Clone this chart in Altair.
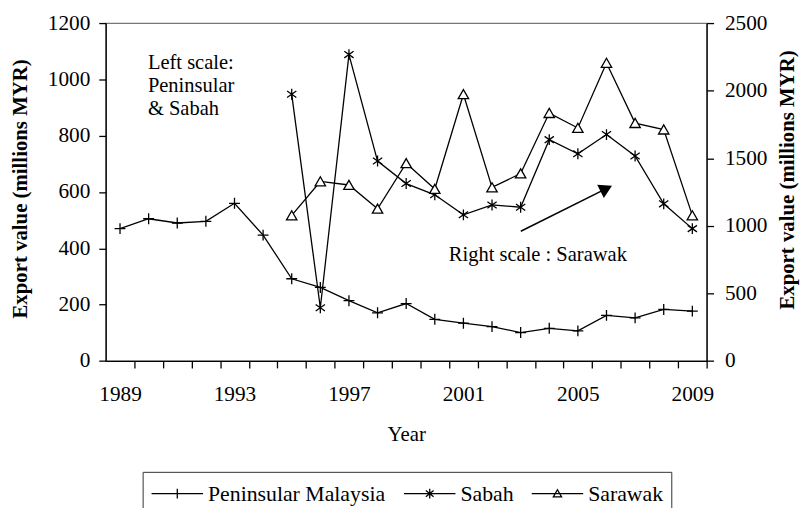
import altair as alt
import pandas as pd

years = list(range(1989, 2010))
peninsular = [470, 505, 490, 496, 560, 447, 292, 261, 214, 171, 204, 148, 134, 122, 101, 116, 107, 162, 153, 183, 177]
sabah_years = list(range(1995, 2010))
sabah = [947, 189, 1088, 710, 630, 590, 519, 554, 546, 786, 736, 804, 728, 558, 470]
sarawak = [1077, 1328, 1302, 1126, 1463, 1272, 1973, 1284, 1387, 1834, 1724, 2205, 1760, 1712, 1077]
series_names = ["Peninsular Malaysia", "Sabah", "Sarawak"]

pen_df = pd.DataFrame({"year": years, "value": peninsular, "series": "Peninsular Malaysia"})
sab_df = pd.DataFrame({"year": sabah_years, "value": sabah, "series": "Sabah"})
sar_df = pd.DataFrame({"year": sabah_years, "value": sarawak, "series": "Sarawak"})
all_df = pd.concat([pen_df, sab_df, sar_df], ignore_index=True)

FONT = "Liberation Serif"
W, H = 607, 341.3
half_band = W / len(years) / 2

PLUS = "M-1,0H1M0,-1V1"
STAR = "M0,-1V1M-0.85,-0.6L0.85,0.6M-0.85,0.6L0.85,-0.6"
TRI = "M0,-0.9L1,0.85L-1,0.85Z"
LEG_PLUS = "M-1,0H3M1,-0.38V0.38"
LEG_STAR = "M-1,0H3M1,-0.38V0.38M0.7,-0.25L1.3,0.25M0.7,0.25L1.3,-0.25"
LEG_TRI = "M-1,0H3M1,-0.3L1.32,0.25L0.68,0.25Z"

xscale = alt.Scale(domain=[1988.5, 2009.5], nice=False, zero=False)
xaxis = alt.Axis(
    values=years, tickOffset=half_band, labelOffset=-half_band,
    labelExpr="(datum.value - 1989) % 4 == 0 ? datum.label : ''",
    format="d", title="Year", grid=False, ticks=True, tickSize=7, tickColor="black",
    tickWidth=1.3, domainColor="black", domainWidth=1.3,
    labelFont=FONT, labelFontSize=21.5, labelColor="black", labelPadding=16,
    titleFont=FONT, titleFontSize=21, titleFontWeight="normal", titleColor="black",
    titleY=63, titleBaseline="top",
)
X = alt.X("year:Q", scale=xscale, axis=xaxis)

ltitle = "Export value (millions MYR)"
left_axis = alt.Axis(
    values=[0, 200, 400, 600, 800, 1000, 1200], format="d", grid=False,
    ticks=True, tickSize=7,
    tickColor="black", tickWidth=1.3, domainColor="black", domainWidth=1.3,
    labelFont=FONT, labelFontSize=21.5, labelColor="black", labelPadding=9,
    title=ltitle, titleFont=FONT, titleFontSize=21, titleFontWeight="bold",
    titleColor="black", titleAngle=270, titleBaseline="middle",
    titleX=-85.7, titleY=167,
)
right_axis = alt.Axis(
    orient="right", values=[0, 500, 1000, 1500, 2000, 2500], format="d", grid=False,
    ticks=True, tickSize=7,
    tickColor="black", tickWidth=1.3, domainColor="black", domainWidth=1.3,
    labelFont=FONT, labelFontSize=21.5, labelColor="black", labelPadding=11,
    title=ltitle, titleFont=FONT, titleFontSize=21, titleFontWeight="bold",
    titleColor="black", titleAngle=270, titleBaseline="middle",
    titleX=82, titleY=158,
)
YL = alt.Y("value:Q", scale=alt.Scale(domain=[0, 1200], nice=False), axis=left_axis)
YR = alt.Y("value:Q", scale=alt.Scale(domain=[0, 2500], nice=False), axis=right_axis)


def series_layers(df, Y, shape, size, fill):
    base = alt.Chart(df)
    line = base.mark_line(color="black", strokeWidth=1.3).encode(x=X, y=Y)
    pts = base.mark_point(shape=shape, size=size, filled=False, fill=fill,
                          stroke="black", strokeWidth=1.3, opacity=1).encode(x=X, y=Y)
    return [line, pts]


left = alt.layer(
    *series_layers(pen_df, YL, PLUS, 121, "transparent"),
    *series_layers(sab_df, YL, STAR, 121, "transparent"),
)
right = alt.layer(*series_layers(sar_df, YR, TRI, 110, "white"))

legend_layer = alt.Chart(all_df).mark_point(opacity=0, filled=False).encode(
    x=alt.value(0), y=alt.value(0),
    shape=alt.Shape(
        "series:N",
        scale=alt.Scale(domain=series_names, range=[LEG_PLUS, LEG_STAR, LEG_TRI]),
        legend=alt.Legend(
            orient="none", legendX=37.3, legendY=453.3, direction="horizontal",
            columns=3, title=None, labelFont=FONT, labelFontSize=22,
            labelColor="black", labelLimit=400, symbolSize=676,
            symbolStrokeColor="black",
            symbolFillColor="white", symbolStrokeWidth=1.3, symbolOpacity=1,
            labelOffset=30, columnPadding=15, padding=8, strokeColor="#333333",
            fillColor="white", labelBaseline="middle",
        ),
    ),
)

ann_left = alt.Chart(pd.DataFrame({"a": [0]})).mark_text(
    align="left", baseline="alphabetic", font=FONT, fontSize=20.7,
    lineHeight=23.3, color="black",
).encode(x=alt.value(42.6), y=alt.value(46),
         text=alt.value(["Left scale:", "Peninsular", "& Sabah"]))

ann_right = alt.Chart(pd.DataFrame({"a": [0]})).mark_text(
    align="left", baseline="alphabetic", font=FONT, fontSize=20.7, color="black",
).encode(x=alt.value(346.6), y=alt.value(240), text=alt.value("Right scale : Sarawak"))

arrow_line = alt.Chart(pd.DataFrame({"a": [0]})).mark_rule(
    color="black", strokeWidth=1.5
).encode(x=alt.value(419.3), y=alt.value(210.3), x2=alt.value(505.6), y2=alt.value(167.2))

arrow_head = alt.Chart(pd.DataFrame({"a": [0]})).mark_point(
    shape="triangle-right", size=225, filled=True, color="black", opacity=1,
    angle=333.4,
).encode(x=alt.value(505.6), y=alt.value(167.2))

chart = alt.layer(
    left, right, legend_layer, ann_left, ann_right, arrow_line, arrow_head
).resolve_scale(y="independent").properties(
    width=W, height=H,
    autosize=alt.AutoSizeParams(type="none"),
    padding={"left": 98.7, "top": 12.7, "right": 94.3, "bottom": 146},
    background="white",
).configure_view(stroke="#777777", strokeWidth=1.3)

chart.save("out.html", embed_options={"renderer": "svg", "actions": False})
